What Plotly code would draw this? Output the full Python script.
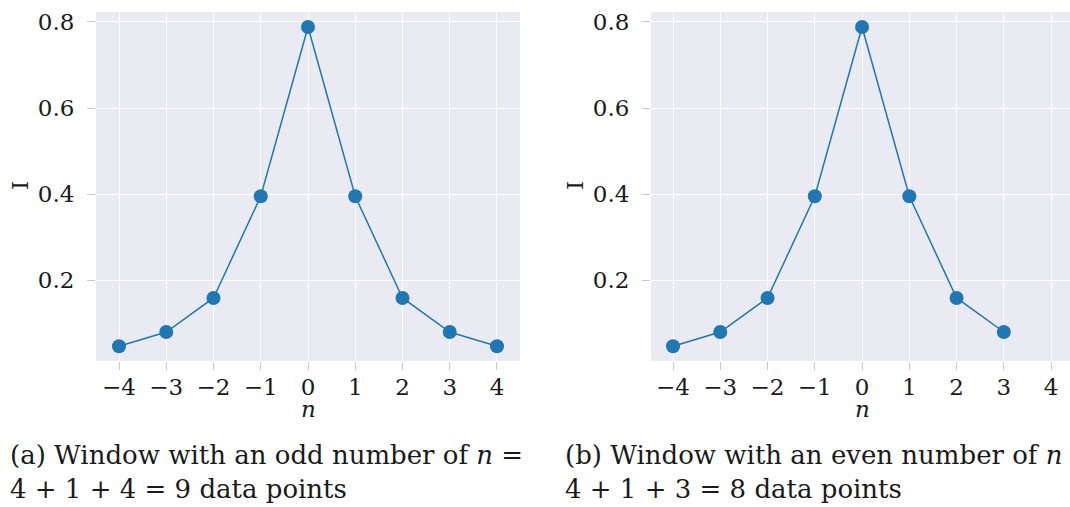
import plotly.graph_objects as go

n_odd = [-4, -3, -2, -1, 0, 1, 2, 3, 4]
I_odd = [0.047, 0.080, 0.159, 0.395, 0.788, 0.395, 0.159, 0.080, 0.047]
n_even = [-4, -3, -2, -1, 0, 1, 2, 3]
I_even = [0.047, 0.080, 0.159, 0.395, 0.788, 0.395, 0.159, 0.080]

x_ticks = [-4, -3, -2, -1, 0, 1, 2, 3, 4]
x_ticktext = ["\u22124", "\u22123", "\u22122", "\u22121", "0", "1", "2", "3", "4"]
y_ticks = [0.2, 0.4, 0.6, 0.8]
y_ticktext = ["0.2", "0.4", "0.6", "0.8"]

captions = [
    "(a) Window with an odd number of <i>n</i> =<br>4 + 1 + 4 = 9 data points",
    "(b) Window with an even number of <i>n</i> =<br>4 + 1 + 3 = 8 data points",
]

W, H = 1070, 507
FONT = "DejaVu Serif"
BLUE = "#1f77b4"
BG = "#EAEAF2"
TXT = "#1a1a1a"

fig = go.Figure()
fig.add_trace(go.Scatter(x=n_odd, y=I_odd, mode="lines+markers",
                         line=dict(color=BLUE, width=1.5),
                         marker=dict(color=BLUE, size=14),
                         xaxis="x", yaxis="y", showlegend=False))
fig.add_trace(go.Scatter(x=n_even, y=I_even, mode="lines+markers",
                         line=dict(color=BLUE, width=1.5),
                         marker=dict(color=BLUE, size=14),
                         xaxis="x2", yaxis="y2", showlegend=False))

ydom = [1 - 360 / H, 1 - 9 / H]
xd1 = [96 / W, 520 / W]
xd2 = [651 / W, 1.0]

common_x = dict(tickmode="array", tickvals=x_ticks, ticktext=x_ticktext,
                showgrid=True, gridcolor="white", gridwidth=1, zeroline=False,
                ticks="outside", ticklen=8, tickwidth=1, tickcolor="#c8c8c8",
                showline=False, ticklabelstandoff=-2,
                tickfont=dict(family=FONT, size=23, color=TXT))
common_y = dict(tickmode="array", tickvals=y_ticks, ticktext=y_ticktext,
                showgrid=True, gridcolor="white", gridwidth=1, zeroline=False,
                ticks="outside", ticklen=8, tickwidth=1, tickcolor="#c8c8c8",
                showline=False, range=[0.013, 0.823], ticklabelstandoff=8,
                tickfont=dict(family=FONT, size=23, color=TXT))

fig.update_layout(
    width=W, height=H,
    margin=dict(l=0, r=0, t=0, b=0),
    paper_bgcolor="white",
    plot_bgcolor=BG,
    xaxis=dict(domain=xd1, anchor="y", range=[-4.487, 4.487], **common_x),
    yaxis=dict(domain=ydom, anchor="x", **common_y),
    xaxis2=dict(domain=xd2, anchor="y2", range=[-4.466, 4.40], **common_x),
    yaxis2=dict(domain=ydom, anchor="x2", **common_y),
)

annotations = []
for xc, ylab_x in [(308, 20), (862, 575)]:
    annotations.append(dict(text="<i>n</i>", x=xc / W, y=1 - 408 / H, xref="paper", yref="paper",
                            xanchor="center", yanchor="middle", showarrow=False,
                            font=dict(family=FONT, size=23, color=TXT)))
    annotations.append(dict(text="I", x=ylab_x / W, y=1 - 184 / H, xref="paper", yref="paper",
                            xanchor="center", yanchor="middle", showarrow=False, textangle=-90,
                            font=dict(family=FONT, size=23, color=TXT)))
for cap, cx in zip(captions, [8, 563]):
    annotations.append(dict(text=cap, x=cx / W, y=1 - 472 / H, xref="paper", yref="paper",
                            xanchor="left", yanchor="middle", align="left", showarrow=False,
                            font=dict(family=FONT, size=26, color=TXT)))
fig.update_layout(annotations=annotations)

fig.write_html("out.html")
